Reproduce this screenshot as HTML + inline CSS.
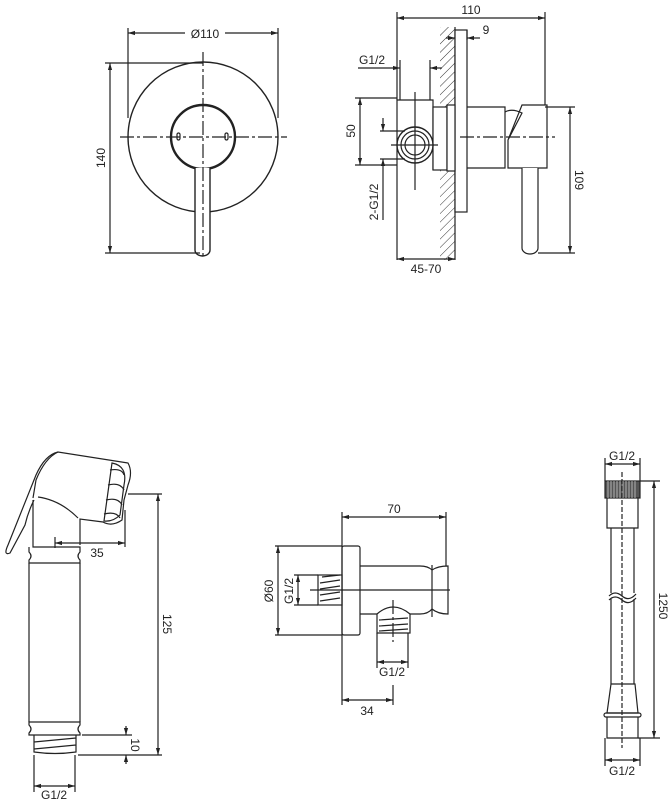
<!DOCTYPE html>
<html><head><meta charset="utf-8"><style>
html,body{margin:0;padding:0;background:#fff}
svg{display:block}
text{font-family:"Liberation Sans",sans-serif;font-size:12px;fill:#222}
</style></head><body>
<svg width="672" height="802" viewBox="0 0 672 802" xmlns="http://www.w3.org/2000/svg">
<defs>
<marker id="a" viewBox="0 0 10 10" refX="10" refY="5" markerWidth="6" markerHeight="6" orient="auto-start-reverse"><path d="M0,2 L10,5 L0,8 z" fill="#222"/></marker>
<pattern id="h" width="6" height="6" patternUnits="userSpaceOnUse" patternTransform="rotate(45)"><line x1="0" y1="0" x2="0" y2="6" stroke="#333" stroke-width="1"/></pattern>
</defs>
<g fill="none" stroke="#222" stroke-width="1.2">
<!-- View 1 -->
<circle cx="203" cy="137" r="75" stroke-width="1.4"/>
<circle cx="203" cy="137" r="32" fill="#fff" stroke-width="2.4"/>
<path d="M195,168 V250 A7.5,6 0 0 0 210,250 V168" fill="#fff" stroke-width="1.4"/>
<line x1="120" y1="137" x2="287" y2="137" stroke-dasharray="14,3,3,3"/>
<line x1="203" y1="52" x2="203" y2="258" stroke-dasharray="14,3,3,3"/>
<rect x="177" y="133" width="3" height="7" rx="1.5"/><rect x="225" y="133" width="3" height="7" rx="1.5"/>
<line x1="128" y1="28" x2="128" y2="118"/><line x1="278" y1="28" x2="278" y2="118"/>
<line x1="128" y1="33" x2="185" y2="33" marker-start="url(#a)"/><line x1="225" y1="33" x2="278" y2="33" marker-end="url(#a)"/>
<line x1="105" y1="63" x2="203" y2="63"/><line x1="105" y1="253" x2="200" y2="253"/>
<line x1="110" y1="63" x2="110" y2="253" marker-start="url(#a)" marker-end="url(#a)"/>
<!-- View 2 -->
<rect x="440" y="27" width="15" height="233" fill="url(#h)" stroke="none"/>
<line x1="455" y1="27" x2="455" y2="260"/>
<rect x="455" y="30" width="12" height="182" fill="#fff"/>
<path d="M397,260 V100 H433 V170"/>
<rect x="433" y="107" width="14" height="63" fill="#fff"/>
<rect x="447" y="105" width="8" height="66" fill="#fff"/>
<circle cx="415" cy="145" r="18" fill="#fff" stroke-width="1.4"/><circle cx="415" cy="145" r="14"/><circle cx="415" cy="145" r="10"/>
<line x1="391" y1="145" x2="438" y2="145"/><line x1="415" y1="92" x2="415" y2="190"/>
<path d="M467,107 H505 V168 H467"/>
<path d="M505,112 Q512,108 522,113 L508,140 V168 H547 V105 H522 L508,140"/>
<path d="M522,168 V248 A8,6 0 0 0 538,248 V168" fill="#fff"/>
<line x1="460" y1="137" x2="555" y2="137" stroke-dasharray="14,3,3,3"/>
<line x1="397" y1="12" x2="397" y2="100"/><line x1="545" y1="12" x2="545" y2="105"/>
<line x1="397" y1="18" x2="545" y2="18" marker-start="url(#a)" marker-end="url(#a)"/>
<line x1="467" y1="30" x2="467" y2="40"/>
<line x1="446" y1="38" x2="455" y2="38" marker-end="url(#a)"/><line x1="480" y1="38" x2="467" y2="38" marker-end="url(#a)"/>
<line x1="430" y1="60" x2="430" y2="100"/><line x1="400" y1="60" x2="400" y2="100"/>
<line x1="358" y1="68" x2="400" y2="68" marker-end="url(#a)"/><line x1="442" y1="68" x2="430" y2="68" marker-end="url(#a)"/>
<line x1="355" y1="98" x2="397" y2="98"/><line x1="355" y1="165" x2="397" y2="165"/>
<line x1="360" y1="98" x2="360" y2="165" marker-start="url(#a)" marker-end="url(#a)"/>
<line x1="380" y1="131" x2="405" y2="131"/><line x1="380" y1="159" x2="405" y2="159"/>
<line x1="383" y1="118" x2="383" y2="131" marker-end="url(#a)"/><line x1="383" y1="220" x2="383" y2="159" marker-end="url(#a)"/>
<line x1="545" y1="107" x2="575" y2="107"/><line x1="538" y1="253" x2="575" y2="253"/>
<line x1="570" y1="107" x2="570" y2="253" marker-start="url(#a)" marker-end="url(#a)"/>
<line x1="397" y1="259" x2="455" y2="259" marker-start="url(#a)" marker-end="url(#a)"/>
<!-- Hand shower -->
<path d="M33,498 L36,480 Q45,458 58,452 L128,463 Q133,472 128,485 L124,500 L122,520 Q112,527 103,522 L80,519 V545"/>
<path d="M58,452 Q45,455 36,475 L8,545 Q3,556 10,553 L25,525 Q28,512 34,500"/>
<path d="M38,497 Q60,500 78,518"/>
<path d="M112,463 Q128,466 124,485 L120,515 Q113,522 104,521 Z" />
<path d="M110,470 Q122,468 124,475 M108,485 Q120,482 124,490 M106,500 Q118,497 122,505 M104,514 Q116,511 120,518"/>
<path d="M33,500 V547 H80 V552 Q76,556 80,560 V563 H29 V560 Q33,556 29,552 V547"/>
<path d="M29,563 V722 M80,563 V722"/>
<path d="M29,722 H80 V725 Q76,729 80,733 V735 H29 V733 Q33,729 29,725 Z"/>
<path d="M34,735 V752 Q55,755 76,752 V735 M34,742 L76,738 M34,749 L76,745"/>
<line x1="82" y1="735" x2="132" y2="735"/><line x1="78" y1="755" x2="162" y2="755"/>
<line x1="126" y1="726" x2="126" y2="735" marker-end="url(#a)"/><line x1="126" y1="764" x2="126" y2="755" marker-end="url(#a)"/>
<line x1="128" y1="494" x2="162" y2="494"/>
<line x1="158" y1="494" x2="158" y2="755" marker-start="url(#a)" marker-end="url(#a)"/>
<line x1="125" y1="510" x2="125" y2="547"/><line x1="55" y1="537" x2="55" y2="548"/>
<line x1="55" y1="543" x2="125" y2="543" marker-start="url(#a)" marker-end="url(#a)"/>
<line x1="34" y1="755" x2="34" y2="792"/><line x1="75" y1="755" x2="75" y2="792"/>
<line x1="34" y1="786" x2="75" y2="786" marker-start="url(#a)" marker-end="url(#a)"/>
<!-- Middle -->
<rect x="342" y="546" width="18" height="89" rx="2" fill="#fff"/>
<rect x="318" y="575" width="24" height="30" fill="#fff"/>
<path d="M322,577 L340,575 M320,583 L340,580 M320,589 L340,586 M320,595 L340,592 M320,601 L340,598"/>
<path d="M360,566 H420 Q428,566 432,570 Q438,566 448,566 V614 Q438,614 432,609 Q428,614 420,614 H405 Q393,604 380,614 H360"/>
<line x1="432" y1="565" x2="432" y2="617"/>
<path d="M377,633 V614 Q393,600 410,614 V633 Z" fill="#fff"/>
<path d="M379,620 L408,618 M379,626 L408,624 M379,631 L408,629"/>
<line x1="310" y1="590" x2="450" y2="590"/>
<line x1="393" y1="600" x2="393" y2="642" stroke-dasharray="14,3,3,3"/>
<line x1="342" y1="512" x2="342" y2="705"/><line x1="446" y1="512" x2="446" y2="566"/>
<line x1="342" y1="517" x2="446" y2="517" marker-start="url(#a)" marker-end="url(#a)"/>
<line x1="275" y1="546" x2="342" y2="546"/><line x1="275" y1="635" x2="342" y2="635"/>
<line x1="278" y1="546" x2="278" y2="635" marker-start="url(#a)" marker-end="url(#a)"/>
<line x1="294" y1="575" x2="318" y2="575"/><line x1="294" y1="605" x2="318" y2="605"/>
<line x1="298" y1="575" x2="298" y2="605" marker-start="url(#a)" marker-end="url(#a)"/>
<line x1="377" y1="633" x2="377" y2="668"/><line x1="408" y1="633" x2="408" y2="668"/>
<line x1="377" y1="662" x2="408" y2="662" marker-start="url(#a)" marker-end="url(#a)"/>
<line x1="393" y1="685" x2="393" y2="705"/>
<line x1="342" y1="700" x2="393" y2="700" marker-start="url(#a)" marker-end="url(#a)"/>
<!-- Hose -->
<rect x="605" y="481" width="35" height="17" fill="#555"/>
<path d="M608,481 V498 M611,481 V498 M614,481 V498 M617,481 V498 M620,481 V498 M623,481 V498 M626,481 V498 M629,481 V498 M632,481 V498 M635,481 V498" stroke="#ccc" stroke-width="0.8"/>
<path d="M607,498 V528 H638 V498"/>
<path d="M611,528 V593 M634,528 V593 M611,599 V684 M634,599 V684"/>
<path d="M609,596 Q615,590 622,596 Q629,602 636,594 M609,600 Q615,594 622,600 Q629,606 636,598"/>
<path d="M611,684 H635 L638,713 H607 Z"/>
<rect x="604" y="713" width="37" height="4" rx="2"/>
<path d="M607,717 V738 H638 V717"/>
<line x1="622" y1="472" x2="622" y2="748" stroke-dasharray="5,2"/>
<line x1="605" y1="458" x2="605" y2="481"/><line x1="640" y1="458" x2="640" y2="481"/>
<line x1="605" y1="464" x2="640" y2="464" marker-start="url(#a)" marker-end="url(#a)"/>
<line x1="640" y1="481" x2="660" y2="481"/><line x1="638" y1="738" x2="660" y2="738"/>
<line x1="654" y1="481" x2="654" y2="738" marker-start="url(#a)" marker-end="url(#a)"/>
<line x1="605" y1="738" x2="605" y2="766"/><line x1="640" y1="738" x2="640" y2="766"/>
<line x1="605" y1="760" x2="640" y2="760" marker-start="url(#a)" marker-end="url(#a)"/>
</g>
<text x="205" y="38" text-anchor="middle">Ø110</text>
<text transform="translate(105,158) rotate(-90)" text-anchor="middle">140</text>
<text x="471" y="14" text-anchor="middle">110</text>
<text x="486" y="34" text-anchor="middle">9</text>
<text x="372" y="64" text-anchor="middle">G1/2</text>
<text transform="translate(355,131) rotate(-90)" text-anchor="middle">50</text>
<text transform="translate(378,202) rotate(-90)" text-anchor="middle">2-G1/2</text>
<text transform="translate(575,180) rotate(90)" text-anchor="middle">109</text>
<text x="426" y="273" text-anchor="middle">45-70</text>
<text x="97" y="557" text-anchor="middle">35</text>
<text transform="translate(163,624) rotate(90)" text-anchor="middle">125</text>
<text transform="translate(131,745) rotate(90)" text-anchor="middle">10</text>
<text x="54" y="799" text-anchor="middle">G1/2</text>
<text x="394" y="513" text-anchor="middle">70</text>
<text transform="translate(273,591) rotate(-90)" text-anchor="middle">Ø60</text>
<text transform="translate(293,591) rotate(-90)" text-anchor="middle">G1/2</text>
<text x="392" y="676" text-anchor="middle">G1/2</text>
<text x="367" y="715" text-anchor="middle">34</text>
<text x="622" y="460" text-anchor="middle">G1/2</text>
<text transform="translate(659,606) rotate(90)" text-anchor="middle">1250</text>
<text x="622" y="775" text-anchor="middle">G1/2</text>
</svg>
</body></html>
